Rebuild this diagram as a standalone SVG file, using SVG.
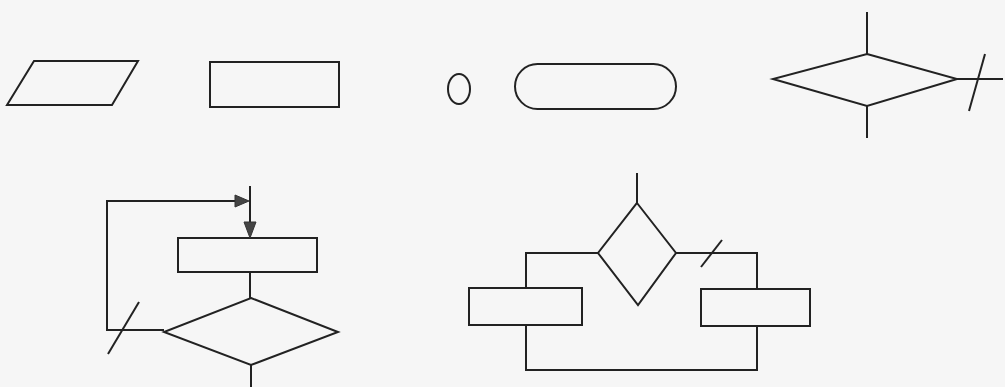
<svg xmlns="http://www.w3.org/2000/svg" width="1005" height="387" viewBox="0 0 1005 387">
<style>
.s{fill:none;stroke:#222;stroke-width:2;stroke-linejoin:miter}
.c{fill:none;stroke:#222;stroke-width:2}
.ah{fill:#444;stroke:#333;stroke-width:1}
</style>
<rect width="1005" height="387" fill="#f6f6f6"/>
<g id="parallelogram"><polygon class="s" points="34,61 138,61 112,105 7,105"/></g>
<g id="process"><rect class="s" x="210" y="62" width="129" height="45"/></g>
<g id="connector-circle"><ellipse class="s" cx="459" cy="89" rx="11" ry="15"/></g>
<g id="terminal"><rect class="s" x="515" y="64" width="161" height="45" rx="22.5" ry="22.5"/></g>
<g id="decision-top"><polygon class="s" points="867,54 957,79 867,106 773,79"/></g>
<g id="loop-rect"><rect class="s" x="178" y="238" width="139" height="34"/></g>
<g id="loop-decision"><polygon class="s" points="251,298 338,332 251,365 164,332"/></g>
<g id="branch-decision"><polygon class="s" points="637,203 676,253 638,305 598,253"/></g>
<g id="branch-left"><rect class="s" x="469" y="288" width="113" height="37"/></g>
<g id="branch-right"><rect class="s" x="701" y="289" width="109" height="37"/></g>
<g id="connectors">
<line class="c" x1="867" y1="12" x2="867" y2="54"/>
<line class="c" x1="867" y1="106" x2="867" y2="138"/>
<line class="c" x1="957" y1="79" x2="1003" y2="79"/>
<line class="c" x1="985" y1="54" x2="969" y2="111"/>
<line class="c" x1="250" y1="186" x2="250" y2="226"/>
<polygon class="ah" points="244,222 256,222 250,238"/>
<polyline class="c" points="164,330 107,330 107,201 238,201"/>
<polygon class="ah" points="235,195 235,207 249,201"/>
<line class="c" x1="139" y1="302" x2="108" y2="354"/>
<line class="c" x1="250" y1="272" x2="250" y2="298"/>
<line class="c" x1="251" y1="365" x2="251" y2="387"/>
<line class="c" x1="637" y1="173" x2="637" y2="203"/>
<polyline class="c" points="598,253 526,253 526,288"/>
<polyline class="c" points="526,325 526,370 757,370 757,326"/>
<polyline class="c" points="676,253 757,253 757,289"/>
<line class="c" x1="722" y1="240" x2="701" y2="267"/>
</g>
</svg>
